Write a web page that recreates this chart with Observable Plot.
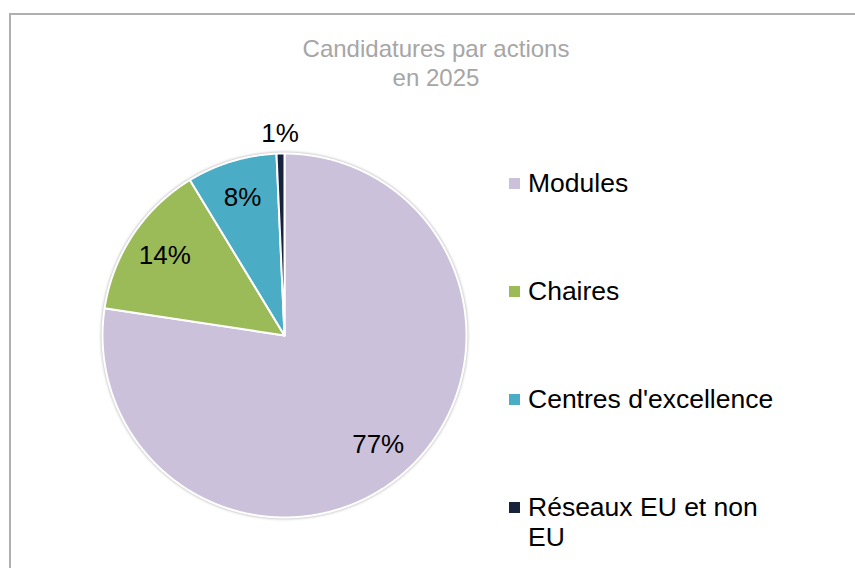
<!DOCTYPE html>
<html>
<head>
<meta charset="utf-8">
<script src="https://cdn.jsdelivr.net/npm/d3@7"></script>
<script src="https://cdn.jsdelivr.net/npm/@observablehq/plot@0.6"></script>
<style>
  html, body { margin: 0; padding: 0; background: #fff; overflow: hidden; }
  #wrap { position: relative; width: 855px; height: 568px; overflow: hidden;
          font-family: "Liberation Sans", Arial, sans-serif; }
  #frame { position: absolute; left: 9px; top: 13px; width: 900px; height: 620px;
           border: 2px solid #b0b0b0; box-sizing: border-box; }
  #chart { position: absolute; left: 0; top: 0; }
  #title { position: absolute; left: 436px; top: 34px; transform: translateX(-50%);
           font-size: 24px; line-height: 29px; color: #a6a6a6; text-align: center; white-space: nowrap; }
  .leg { position: absolute; left: 509px; width: 270px; font-size: 26.5px; line-height: 30px; color: #000; }
  .leg .sw { position: absolute; left: 0; top: 10px; width: 11px; height: 11px; }
  .leg .lab { margin-left: 19px; }
</style>
</head>
<body>
<div id="wrap">
  <div id="frame"></div>
  <div id="chart"></div>
  <div id="title">Candidatures par actions<br>en 2025</div>
</div>
<script>
const categories = ["Modules", "Chaires", "Centres d'excellence", "Réseaux EU et non EU"];
const shares = [77.4, 13.9, 8.0, 0.7];
const shareLabels = ["77%", "14%", "8%", "1%"];
const colors = ["#ccc1da", "#9bbb59", "#4bacc6", "#17233d"];

const rows = categories.map((name, i) => ({name, value: shares[i], label: shareLabels[i]}));
const arcs = d3.pie().sort(null).value(d => d.value)(rows);

// slice outlines in unit-radius data space (angle 0 at 12 o'clock, clockwise)
const slicePts = [];
arcs.forEach(a => {
  const name = a.data.name;
  slicePts.push({name, x: 0, y: 0});
  const n = Math.max(2, Math.ceil((a.endAngle - a.startAngle) / 0.005));
  for (let k = 0; k <= n; k++) {
    const t = a.startAngle + (a.endAngle - a.startAngle) * k / n;
    slicePts.push({name, x: Math.sin(t), y: Math.cos(t)});
  }
  slicePts.push({name, x: 0, y: 0});
});

const labelPts = arcs.map(a => {
  const mid = (a.startAngle + a.endAngle) / 2;
  const rr = a.data.value < 2 ? 1.11 : 0.79;
  return {x: rr * Math.sin(mid), y: rr * Math.cos(mid), text: a.data.label};
});

const R = 182, cx = 284, cy = 335, W = 855, H = 568;
const plot = Plot.plot({
  width: W, height: H, margin: 0,
  style: {background: "transparent", fontFamily: "Liberation Sans, Arial, sans-serif"},
  x: {domain: [-cx / R, (W - cx) / R], axis: null},
  y: {domain: [-(H - cy) / R, cy / R], axis: null},
  color: {domain: categories, range: colors},
  marks: [
    Plot.line(slicePts, {x: "x", y: "y", z: "name", fill: "name", stroke: "white", strokeWidth: 2, strokeLinejoin: "round"}),
    Plot.text(labelPts, {x: "x", y: "y", text: "text", fontSize: 26, fill: "#000"})
  ]
});
const g = plot.querySelector('g[aria-label="line"]');
if (g) g.style.filter = "drop-shadow(0px 0px 1.5px rgba(0,0,0,0.35))";
document.getElementById("chart").appendChild(plot);

const wrap = document.getElementById("wrap");
categories.forEach((name, i) => {
  const d = document.createElement("div");
  d.className = "leg";
  d.style.top = (168 + i * 108) + "px";
  d.innerHTML = `<span class="sw" style="background:${colors[i]}"></span><div class="lab"></div>`;
  d.querySelector(".lab").textContent = name;
  wrap.appendChild(d);
});
</script>
</body>
</html>
